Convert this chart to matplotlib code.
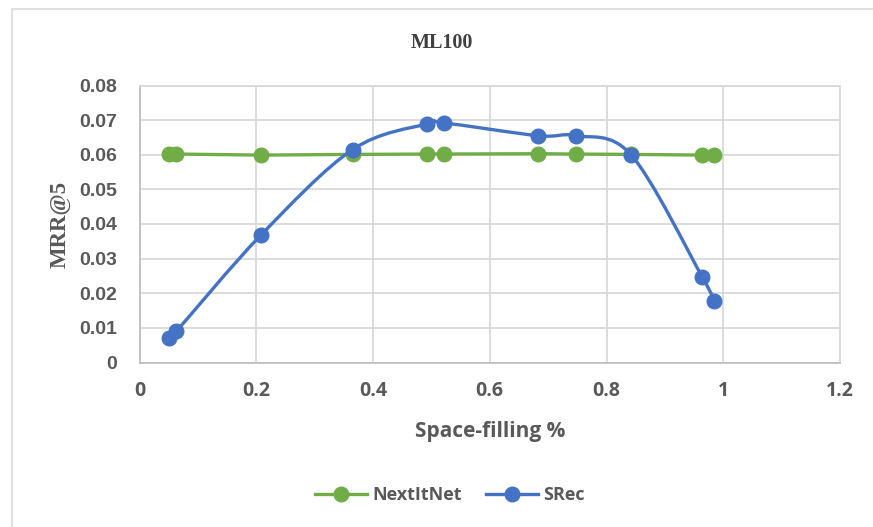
import matplotlib.pyplot as plt
import numpy as np
from matplotlib.path import Path
from matplotlib.patches import PathPatch, Rectangle
from matplotlib.lines import Line2D

# data
space_filling = [0.051, 0.063, 0.208, 0.365, 0.492, 0.521, 0.683, 0.747, 0.842, 0.964, 0.984]
nextitnet = [0.0602, 0.0602, 0.0599, 0.0601, 0.0602, 0.0602, 0.0603, 0.0602, 0.0601, 0.0599, 0.0599]
srec = [0.0072, 0.0090, 0.0368, 0.0615, 0.0689, 0.0692, 0.0655, 0.0655, 0.0600, 0.0247, 0.0178]
x_ticks = [0, 0.2, 0.4, 0.6, 0.8, 1, 1.2]
y_ticks = [0, 0.01, 0.02, 0.03, 0.04, 0.05, 0.06, 0.07, 0.08]

green = '#70AD47'
blue = '#4472C4'
grid_col = '#d9d9d9'
text_col = '#595959'


# smoothed line like in excel (catmull-rom -> bezier)
def smooth_path(x, y):
    pts = np.column_stack([x, y])
    n = len(pts)
    verts = [pts[0]]
    codes = [Path.MOVETO]
    for i in range(n - 1):
        p0 = pts[i - 1] if i > 0 else pts[i]
        p1 = pts[i]
        p2 = pts[i + 1]
        p3 = pts[i + 2] if i + 2 < n else pts[i + 1]
        c1 = p1 + (p2 - p0) / 6
        c2 = p2 - (p3 - p1) / 6
        verts += [c1, c2, p2]
        codes += [Path.CURVE4] * 3
    return Path(verts, codes)


fig = plt.figure(figsize=(8.73, 5.27), dpi=100)
fig.patches.append(Rectangle((12 / 873, -0.1), 1.2, 1 - 9 / 527 + 0.1, transform=fig.transFigure,
                             fill=False, edgecolor=grid_col, linewidth=1.2))
ax = fig.add_axes([139.5 / 873, 1 - 362.5 / 527, (840 - 139.5) / 873, (362.5 - 85.5) / 527])

ax.set_xlim(0, 1.2)
ax.set_ylim(0, 0.08)
ax.set_xticks(x_ticks)
ax.set_yticks(y_ticks)
ax.set_xticklabels(['0', '0.2', '0.4', '0.6', '0.8', '1', '1.2'])
ax.set_yticklabels(['0', '0.01', '0.02', '0.03', '0.04', '0.05', '0.06', '0.07', '0.08'])
ax.grid(True, color=grid_col, linewidth=1.3)
ax.set_axisbelow(True)
for s in ['top', 'right']:
    ax.spines[s].set_color(grid_col)
    ax.spines[s].set_linewidth(1.3)
for s in ['left', 'bottom']:
    ax.spines[s].set_color('#bfbfbf')
    ax.spines[s].set_linewidth(1.3)
ax.tick_params(length=0)
ax.tick_params(axis='y', pad=16)
ax.tick_params(axis='x', pad=13)
for lab in ax.get_yticklabels():
    lab.set_fontfamily('Liberation Sans')
    lab.set_fontweight('bold')
    lab.set_fontsize(14)
    lab.set_color(text_col)
for lab in ax.get_xticklabels():
    lab.set_fontfamily('Open Sans')
    lab.set_fontweight('bold')
    lab.set_fontsize(14)
    lab.set_color(text_col)

ax.plot(space_filling, nextitnet, color=green, linewidth=2.4, zorder=3)
ax.plot(space_filling, nextitnet, 'o', color=green, markersize=10.5, zorder=4)
ax.add_patch(PathPatch(smooth_path(space_filling, srec), fill=False, edgecolor=blue,
                       linewidth=2.4, zorder=5))
ax.plot(space_filling, srec, 'o', color=blue, markersize=10.5, zorder=6)

ax.set_xlabel('Space-filling %', fontfamily='Open Sans', fontweight='bold', fontsize=15,
              color=text_col, labelpad=15)
ax.set_ylabel('MRR@5', fontfamily='Liberation Serif', fontweight='bold', fontsize=16.5,
              color=text_col, labelpad=6)
fig.text(442 / 873, 1 - 43 / 527, 'ML100', fontfamily='Liberation Serif', fontweight='bold',
         fontsize=14.5, color='#404040', ha='center', va='center')

handles = [Line2D([], [], color=green, linewidth=2.4, marker='o', markersize=10.5),
           Line2D([], [], color=blue, linewidth=2.4, marker='o', markersize=10.5)]
fig.legend(handles, ['NextItNet', 'SRec'], loc='center', bbox_to_anchor=(450 / 873, 1 - 495 / 527),
           ncol=2, frameon=False, handlelength=2.9, columnspacing=1.3, handletextpad=0.3,
           prop={'family': 'Open Sans', 'weight': 'bold', 'size': 13}, labelcolor=text_col)

fig.savefig('out.png', dpi=100)
